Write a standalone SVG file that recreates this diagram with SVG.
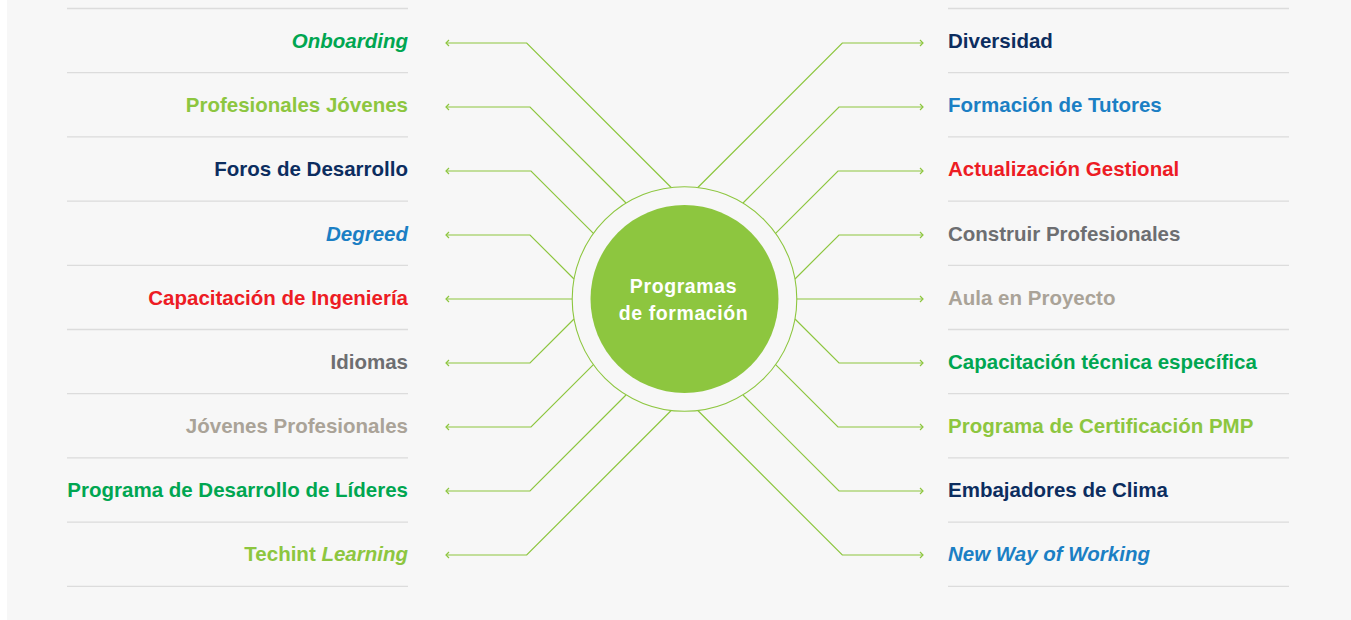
<svg xmlns="http://www.w3.org/2000/svg" width="1351" height="620" viewBox="0 0 1351 620">
<style>
.sep{stroke:#dcdcdc;stroke-width:1.3;fill:none}
.con{stroke:#8dc63f;stroke-width:1.2;fill:none;marker-end:url(#arr)}
.lbl{font-family:"Liberation Sans",Arial,sans-serif;font-weight:bold;font-size:20.5px}
.l{text-anchor:end}
.it{font-style:italic}
.g{fill:#00a651}.lg{fill:#8dc63f}.nv{fill:#0c2d5f}.bl{fill:#1b7fc4}.rd{fill:#ed1c24}.gr{fill:#6d6e71}.bg{fill:#aaa398}
.ctr{font-family:"Liberation Sans",Arial,sans-serif;font-weight:bold;font-size:19.5px;fill:#ffffff;text-anchor:middle;letter-spacing:0.6px}
</style>
<defs>
<marker id="arr" markerUnits="userSpaceOnUse" markerWidth="10" markerHeight="10" viewBox="-5 -5 10 10" refX="0" refY="0" orient="auto">
<path d="M-3,-3 L0,0 L-3,3" fill="none" stroke="#8dc63f" stroke-width="1.2"/>
</marker>
</defs>
<rect x="7" y="0" width="1344" height="620" fill="#f7f7f7"/>
<g id="separators">
<path class="sep" d="M67,8.5H408M67,72.7H408M67,136.9H408M67,201.1H408M67,265.3H408M67,329.5H408M67,393.7H408M67,457.9H408M67,522.1H408M67,586.3H408"/>
<path class="sep" d="M948,8.5H1289M948,72.7H1289M948,136.9H1289M948,201.1H1289M948,265.3H1289M948,329.5H1289M948,393.7H1289M948,457.9H1289M948,522.1H1289M948,586.3H1289"/>
</g>
<g id="connectors">
<path class="con" d="M671.2,187.5L526.7,43H446"/>
<path class="con" d="M626,203L530,107H446"/>
<path class="con" d="M593.4,233.4L531,171H446"/>
<path class="con" d="M574,279L530,235H446"/>
<path class="con" d="M572.2,299H446"/>
<path class="con" d="M574,319L530,363H446"/>
<path class="con" d="M593.4,364.6L531,427H446"/>
<path class="con" d="M626,395L530,491H446"/>
<path class="con" d="M671.2,410.5L526.7,555H446"/>
<path class="con" d="M697.8,187.5L842.3,43H923"/>
<path class="con" d="M743,203L839,107H923"/>
<path class="con" d="M775.6,233.4L838,171H923"/>
<path class="con" d="M795,279L839,235H923"/>
<path class="con" d="M796.8,299H923"/>
<path class="con" d="M795,319L839,363H923"/>
<path class="con" d="M775.6,364.6L838,427H923"/>
<path class="con" d="M743,395L839,491H923"/>
<path class="con" d="M697.8,410.5L842.3,555H923"/>
</g>
<g id="center">
<circle cx="684.5" cy="299" r="112.3" fill="none" stroke="#8dc63f" stroke-width="1.1"/>
<circle cx="684.5" cy="299" r="94" fill="#8dc63f"/>
<text class="ctr" x="683.5" y="292.5">Programas</text>
<text class="ctr" x="683.5" y="319.5">de formación</text>
</g>
<g id="n-onboarding"><text class="lbl l g it" x="408" y="48">Onboarding</text></g>
<g id="n-profesionales-jovenes"><text class="lbl l lg" x="408" y="112">Profesionales Jóvenes</text></g>
<g id="n-foros"><text class="lbl l nv" x="408" y="176">Foros de Desarrollo</text></g>
<g id="n-degreed"><text class="lbl l bl it" x="408" y="240.5">Degreed</text></g>
<g id="n-capacitacion-ing"><text class="lbl l rd" x="408" y="304.5">Capacitación de Ingeniería</text></g>
<g id="n-idiomas"><text class="lbl l gr" x="408" y="368.5">Idiomas</text></g>
<g id="n-jovenes-prof"><text class="lbl l bg" x="408" y="432.5">Jóvenes Profesionales</text></g>
<g id="n-lideres"><text class="lbl l g" x="408" y="496.5">Programa de Desarrollo de Líderes</text></g>
<g id="n-techint"><text class="lbl l lg" x="408" y="560.5">Techint <tspan class="it">Learning</tspan></text></g>
<g id="n-diversidad"><text class="lbl nv" x="948" y="48">Diversidad</text></g>
<g id="n-tutores"><text class="lbl bl" x="948" y="112">Formación de Tutores</text></g>
<g id="n-gestional"><text class="lbl rd" x="948" y="176">Actualización Gestional</text></g>
<g id="n-construir"><text class="lbl gr" x="948" y="240.5">Construir Profesionales</text></g>
<g id="n-aula"><text class="lbl bg" x="948" y="304.5">Aula en Proyecto</text></g>
<g id="n-tecnica"><text class="lbl g" x="948" y="368.5">Capacitación técnica específica</text></g>
<g id="n-pmp"><text class="lbl lg" x="948" y="432.5">Programa de Certificación PMP</text></g>
<g id="n-clima"><text class="lbl nv" x="948" y="496.5">Embajadores de Clima</text></g>
<g id="n-nwow"><text class="lbl bl it" x="948" y="560.5">New Way of Working</text></g>
</svg>
